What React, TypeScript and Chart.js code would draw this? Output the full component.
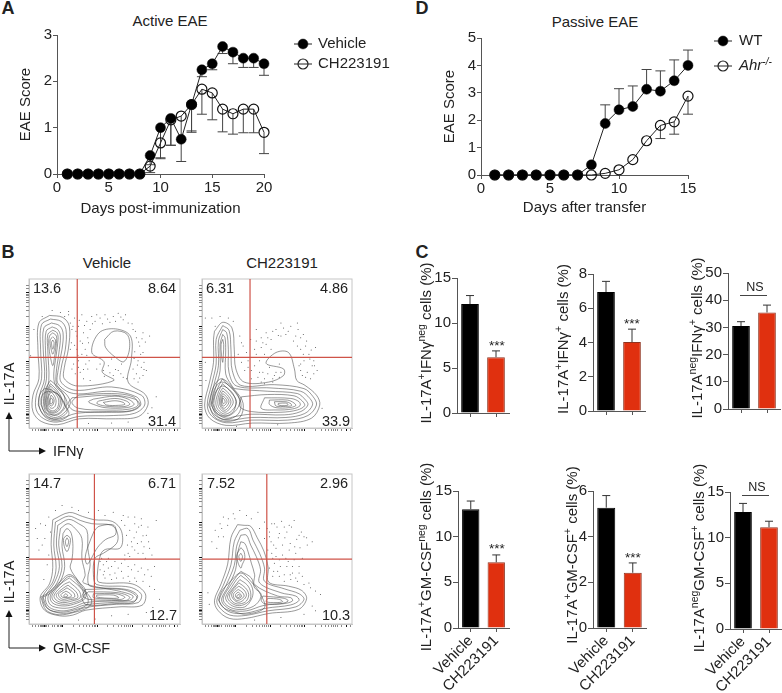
import React, { useEffect, useRef } from "react";
import { Chart, registerables } from "chart.js";

Chart.register(...registerables);
Chart.defaults.font.family = "'Liberation Sans', Arial, sans-serif";
Chart.defaults.color = "#222";

// ---------- Panel A ----------
const activeDays = [1, 2, 3, 4, 5, 6, 7, 8, 9, 10, 11, 12, 13, 14, 15, 16, 17, 18, 19, 20];
const activeVehicle = [0, 0, 0, 0, 0, 0, 0, 0, 0.4, 1.0, 1.2, 0.75, 1.5, 2.25, 2.38, 2.75, 2.63, 2.5, 2.5, 2.38];
const activeVehicleErr = [null, null, null, null, null, null, null, null, 0.2, 0.35, 0.62, 0.27, 0.9, 2.1, 2.25, 2.6, 2.38, 2.3, 2.3, 2.13];
const activeTreated = [0, 0, 0, 0, 0, 0, 0, 0, 0.17, 0.67, 1.17, 1.25, 1.5, 1.83, 1.75, 1.4, 1.3, 1.4, 1.4, 0.9];
const activeTreatedErr = [null, null, null, null, null, null, null, null, 0.03, 0.33, 0.62, 0.75, 0.93, 1.29, 1.17, 0.91, 0.86, 0.89, 0.89, 0.44];

// ---------- Panel D ----------
const passiveDays = [1, 2, 3, 4, 5, 6, 7, 8, 9, 10, 11, 12, 13, 14, 15];
const passiveWT = [0, 0, 0, 0, 0, 0, 0, 0.37, 1.88, 2.38, 2.5, 3.13, 3.06, 3.44, 4.0];
const passiveWTErr = [null, null, null, null, null, null, null, null, 2.56, 3.15, 3.25, 3.85, 3.8, 4.2, 4.56];
const passiveKO = [0, 0, 0, 0, 0, 0, 0, 0, 0.06, 0.19, 0.56, 1.25, 1.81, 1.94, 2.88];
const passiveKOErr = [null, null, null, null, null, null, null, null, null, null, null, null, 1.33, 1.49, 2.22];

// ---------- Panel C ----------
const barGroups = ["Vehicle", "CH223191"];
const ifnNegMeans = [12.1, 6.2];
const ifnNegErr = [13.05, 6.9];
const ifnPosMeans = [6.95, 4.03];
const ifnPosErr = [7.57, 4.78];
const ifnOnlyMeans = [30.5, 35.5];
const ifnOnlyErr = [32.1, 38.2];
const gmNegMeans = [13, 7.2];
const gmNegErr = [13.9, 8.0];
const gmPosMeans = [5.27, 2.42];
const gmPosErr = [5.8, 2.85];
const gmOnlyMeans = [12.8, 11.15];
const gmOnlyErr = [13.75, 11.8];

// ---------- Panel B: flow plots, contours as channel pairs (x, y, x, y, ...) ----------
const yMajorTicks = [41, 96, 203, 308, 412];
const yMinorTicks = [14, 22, 28, 33, 37, 45, 50, 56, 62, 68, 75, 82, 88, 128, 146, 159, 169, 178, 185, 191, 196, 235, 253, 266, 276, 285, 292, 298, 303, 340, 358, 371, 381, 390, 397, 403, 408, 425, 435];
const xMajorTicks = [47, 102, 207, 312, 440];
const xMinorTicks = [12, 20, 30, 35, 38, 41, 44, 50, 53, 60, 70, 78, 85, 90, 95, 98, 134, 152, 165, 175, 184, 191, 197, 202, 239, 257, 270, 280, 289, 296, 302, 307, 344, 362, 375, 385, 394, 401, 407, 412, 425, 450];

const contoursIfnVehicle = [
  [62,343,102,337,122,310,119,240,107,185,107,150,147,128,257,145,222,170,227,202,190,230,212,290,262,302,307,280,310,210,300,140,352,102,360,70,332,35,262,28,152,28,87,10,37,20,12,50,12,100,30,150,27,240,30,320],
  [65,332,97,325,112,300,110,240,97,180,97,140,140,115,250,125,340,100,350,70,320,45,255,38,150,35,85,18,45,28,22,55,22,100,38,150,35,240,38,315],
  [68,320,92,312,103,290,100,240,88,175,88,135,135,105,250,112,325,95,338,70,310,52,250,48,145,45,85,26,52,35,32,60,32,100,47,150,43,240,45,305],
  [70,308,87,300,95,280,90,225,82,165,85,130,115,100,125,75,105,45,80,32,55,42,40,62,40,100,53,150,50,235,52,295],
  [72,298,85,290,88,270,82,220,75,165,80,130,105,100,115,75,100,50,80,38,60,47,48,65,48,100,60,145,57,235,57,285],
  [72,290,83,280,82,250,77,215,72,190,65,215,60,250,62,280],
  [72,278,80,268,78,245,72,225,66,245,64,268],
  [72,268,76,260,72,240,68,260],
  [65,145,90,122,108,92,103,58,78,40,52,48,44,80,50,118],
  [65,135,85,115,100,85,92,55,72,45,55,55,50,85,55,115],
  [65,128,83,110,95,85,88,57,71,48,56,58,52,85,57,110],
  [66,120,80,105,90,85,85,60,70,52,58,62,55,85,60,105],
  [67,110,77,98,82,83,78,65,68,60,60,68,58,85,60,98],
  [67,100,74,92,76,82,72,70,67,67,62,73,62,85],
  [67,92,72,85,70,75,65,74,64,83],
  [28,70,48,34,85,22,120,40,110,70,90,100,50,120,32,100],
  [36,72,53,38,82,28,115,48,105,75,85,105,52,110,38,95],
  [130,92,250,100,320,88,335,70,305,52,235,50,140,52,118,72],
  [150,100,250,105,315,95,330,70,300,57,230,55,150,60,130,78],
  [195,88,260,97,300,88,318,72,295,62,230,62,195,72,180,80],
  [210,82,260,90,295,82,305,72,285,65,230,67,205,75],
  [225,78,260,83,285,78,290,72,270,69,235,70],
  [229,270,257,295,297,285,304,240,287,202,262,215,232,245],
];
const contoursIfnTreated = [
  [38,295,63,322,91,305,98,240,103,180,128,140,203,140,248,160,248,180,195,197,225,230,263,230,281,180,288,145,313,130,348,100,358,70,333,30,263,15,153,15,73,8,23,30,8,70,23,140,35,200,35,270],
  [63,312,82,298,88,240,92,175,118,130,220,132,310,120,338,95,348,70,322,38,260,24,150,24,73,16,30,36,16,70,30,135,43,195,43,270],
  [63,300,75,290,80,240,82,170,105,128,210,122,300,112,328,90,336,70,312,44,255,32,150,32,73,24,36,42,24,70,36,130,50,190,50,265],
  [63,285,70,275,72,235,72,165,90,130,100,120,200,112,290,105,315,85,322,70,300,50,250,40,150,42,100,35,73,30,42,47,30,72,42,125,55,175,55,255],
  [63,270,66,255,65,225,63,200,59,225,58,255],
  [62,150,80,130,100,110,115,80,100,50,73,36,45,52,36,75,45,115],
  [20,70,40,32,75,20,115,32,125,75,100,115,60,150,35,125],
  [28,72,45,38,73,26,110,42,118,78,95,118,60,140,38,118],
  [32,75,45,45,70,36,95,50,103,80,90,110,62,128,42,110],
  [62,135,78,120,93,103,105,80,93,55,70,42,48,57,42,78,50,110],
  [63,122,82,105,95,80,85,60,70,48,52,62,48,80,53,105],
  [63,113,78,100,88,80,80,62,68,54,56,66,53,82,56,100],
  [63,105,75,95,82,80,75,66,66,60,58,70,57,83,58,95],
  [63,98,72,90,76,80,70,70,64,67,60,75,60,88],
  [63,92,69,85,70,78,65,74,62,82],
  [120,95,200,102,280,98,305,82,312,68,290,55,240,48,150,50,115,65],
  [190,92,270,90,295,80,298,68,275,58,225,55,180,60],
  [205,85,260,85,280,76,285,68,265,62,225,62,205,72],
  [220,80,255,80,270,74,272,68,255,66,225,67],
  [232,75,255,76,262,71,250,68,232,70],
];
const contoursGmVehicle = [
  [72,317,122,339,162,327,197,317,252,312,280,282,277,232,232,227,217,212,207,152,212,127,312,122,352,92,342,57,272,52,172,42,132,27,92,25,47,42,34,82,62,122,72,172,67,242],
  [80,310,120,328,155,315,190,305,250,300,268,275,265,245,225,215,200,200,195,150,205,120,305,112,340,90,330,65,265,60,170,50,132,36,95,33,55,48,42,82,72,128,82,172,75,240],
  [87,300,120,318,150,305,175,285,178,230,185,180,178,140,185,115,295,105,328,88,320,70,260,66,170,58,132,45,97,40,60,52,50,82,78,128,92,175,83,240],
  [197,282,212,297,257,300,262,272,232,257,207,232,177,182,170,200,180,240],
  [95,290,118,305,140,290,160,260,160,200,170,150,165,125,280,98,315,85,305,72,255,70,170,65,135,52,100,48,65,58,58,85,85,125,100,175,90,240],
  [103,275,115,290,128,275,133,235,130,195,125,170,150,130,170,105,170,78,135,60,100,55,70,65,65,88,95,130,108,175,100,235],
  [115,270,125,260,122,235,115,220,107,235,105,260],
  [115,262,120,252,115,235,110,250],
  [36,82,52,42,92,28,135,35,178,50,190,70,170,100,125,150,85,120,58,95],
  [42,82,58,46,95,36,135,42,175,58,178,80,160,108,125,145,90,118,62,92],
  [122,140,160,105,165,80,135,65,102,60,75,70,70,88,100,125],
  [122,128,152,100,155,80,130,70,102,65,82,73,76,88,103,118],
  [118,118,143,97,147,80,125,74,103,70,87,78,83,90,105,110],
  [115,110,135,95,138,82,120,78,103,75,92,82,90,92,105,103],
  [112,100,125,92,128,84,112,80,100,82,97,90],
  [110,92,117,88,115,83,105,84],
  [170,105,280,105,325,85,315,65,260,62,175,58,160,80],
  [180,98,270,95,305,82,295,72,250,72,180,75,165,85],
  [195,92,262,92,290,82,280,75,250,76,195,80],
  [205,88,255,88,272,80,255,78,205,82],
];
const contoursGmTreated = [
  [108,302,128,300,148,297,168,262,188,222,201,172,203,127,263,115,303,102,318,77,293,44,203,32,133,17,83,17,48,42,38,72,58,122,78,182,88,262],
  [115,285,140,290,155,255,175,215,190,170,190,130,250,107,295,92,310,75,285,52,200,40,133,26,85,27,55,48,45,72,65,118,88,180,98,250],
  [118,270,135,270,148,240,165,205,178,165,175,125,240,95,285,85,295,72,270,58,195,48,133,33,88,35,60,55,53,75,72,115,98,178,105,235],
  [118,250,130,245,140,220,150,185,160,150,160,120,230,85,270,80,275,70,250,62,190,57,135,40,92,42,65,60,60,78,80,115,102,165,108,215],
  [118,232,127,222,130,200,122,180,118,170,110,185,106,210],
  [118,215,123,205,118,190,112,205],
  [50,72,68,48,95,38,135,30,190,50,175,95,150,128,118,155,85,128,60,100],
  [118,160,150,140,160,110,180,90,165,60,130,45,95,47,70,62,65,80,85,115,105,145],
  [118,148,145,125,155,100,150,75,130,52,100,52,78,66,72,82,90,112,105,135],
  [115,135,138,118,148,95,145,72,125,58,103,57,83,70,78,85,95,110],
  [112,125,132,110,142,90,135,70,120,62,103,62,88,73,84,88,97,108],
  [112,115,128,103,135,87,125,72,110,66,95,76,90,90,100,105],
  [110,105,122,97,128,85,118,75,105,72,97,80,96,92],
  [110,97,118,90,120,83,110,77,103,82,102,90],
  [113,90,116,84,108,80,106,86],
  [185,85,250,78,262,70,240,62,190,62,180,72],
  [200,78,235,75,245,68,225,65,195,68],
];

const dotsIfnVehicle = [125,320,130,300,138,335,145,280,150,310,155,265,160,345,165,290,170,240,175,325,180,260,185,300,190,340,145,240,150,205,160,225,172,195,128,260,135,215,130,180,140,165,155,170,165,150,178,180,185,145,200,325,215,335,230,345,245,322,255,340,270,350,285,330,300,320,315,300,325,275,335,250,345,230,320,232,330,205,340,185,325,165,315,180,318,150,330,140,345,160,355,175,365,280,352,262,345,290,225,175,240,190,255,160,270,175,285,155,250,210,280,195,120,345,95,352,70,358,40,340,15,300,5,220,360,45,372,62,250,15,300,18,180,14,385,95,133,310,142,295,152,328,168,312,178,275,192,318,205,345,222,318,238,332,262,325,278,338,292,345,312,318,322,295,332,262,342,272,318,212,328,192,338,225,348,200,335,152,348,178,125,240,138,252,148,222,162,258,175,222,182,205,135,195,150,185,165,178,228,158,245,168,262,178,278,165,295,150,205,180,215,195,108,340,120,355];
const dotsIfnTreated = [10,335,30,335,55,340,80,335,95,325,40,310,115,280,125,250,135,230,110,225,120,200,140,205,150,175,165,225,175,205,165,265,180,275,195,290,210,270,225,300,240,320,255,285,270,310,285,280,300,275,300,240,315,250,325,225,340,205,335,190,320,170,310,205,295,190,345,245,350,175,330,150,305,160,300,195,290,320,175,170,200,165,215,150,225,170,235,195,180,140,190,150,130,175,150,150,240,280,210,240,195,255,165,300,10,200,12,145,365,60,230,10,105,5,185,260,200,275,215,295,232,282,248,305,262,295,278,265,292,300,308,285,318,265,332,238,345,215,328,210,308,225,290,250,180,245,190,225,205,215,125,215,140,185,160,190,170,155,185,170,205,185,220,160,240,170,190,135,215,140,235,155,300,175,315,155,340,165,120,260,148,270,160,240,342,190];
const dotsGmVehicle = [20,290,35,305,50,300,60,325,80,345,100,360,130,355,150,345,180,340,210,345,230,330,255,340,280,315,300,325,320,305,340,300,360,295,385,315,295,270,310,250,325,280,340,250,355,270,300,215,320,225,345,215,365,230,290,210,240,200,260,190,280,185,300,175,320,180,340,170,360,165,380,175,225,180,240,170,260,155,280,160,300,145,320,140,345,130,230,140,250,135,365,115,380,105,395,75,375,50,355,35,300,30,250,25,200,15,150,12,60,210,55,180,45,135,30,225,220,200,215,165,290,300,305,285,318,262,332,295,345,268,298,240,312,235,328,245,348,235,362,250,372,210,305,205,330,215,352,200,235,190,250,175,270,170,290,195,310,165,330,160,350,150,370,145,228,160,245,150,265,140,285,140,305,130,325,130,215,190,225,150,65,280,48,260,40,240,25,260,340,320,320,325,285,330];
const dotsGmTreated = [30,250,40,285,55,305,65,265,45,230,65,325,80,320,95,335,115,345,135,330,150,320,170,340,175,290,190,310,205,280,220,305,235,275,250,295,265,300,280,315,295,270,310,265,320,240,335,250,210,250,225,230,245,240,265,225,285,215,305,200,190,260,200,225,215,200,235,195,255,200,275,175,295,175,205,170,215,145,230,160,250,150,270,135,290,130,310,120,330,110,345,100,360,90,335,55,345,40,310,30,240,20,160,12,18,95,22,60,198,290,212,305,228,295,242,312,258,280,272,295,288,258,302,280,318,262,205,265,218,240,232,262,252,262,268,245,282,235,298,232,212,215,225,205,245,210,262,190,280,195,220,185,238,175,258,175,275,155,295,155,218,160,235,145,250,130,268,150,285,140,305,145,325,125,60,290,78,300,100,320,50,265];

const ifnVehicleGate = [146, 215];
const ifnTreatedGate = [146, 215];
const gmVehicleGate = [198, 197];
const gmTreatedGate = [197, 197];

// ---------- Helpers ----------
const toPoints = (flat: number[]) => {
  const out: { x: number; y: number }[] = [];
  for (let i = 0; i < flat.length; i += 2) out.push({ x: flat[i], y: flat[i + 1] });
  return out;
};
const closeLoop = (flat: number[]) => [...flat, flat[0], flat[1]];

type Rect = { l: number; t: number; r: number; b: number };
type Margin = { l: number; t: number; r: number; b: number };

const errorBars = {
  id: "errorBars",
  beforeDatasetsDraw(chart: any) {
    const { ctx } = chart;
    const yScale = chart.scales.y;
    chart.data.datasets.forEach((ds: any, i: number) => {
      if (!ds.errorTo) return;
      const meta = chart.getDatasetMeta(i);
      ctx.save();
      ctx.strokeStyle = ds.errorColor || "#444";
      ctx.lineWidth = 1;
      meta.data.forEach((el: any, k: number) => {
        const v = ds.errorTo[k];
        if (v === null || v === undefined) return;
        const yEnd = yScale.getPixelForValue(v);
        const hw = ds.errorCap || 4.5;
        ctx.beginPath();
        ctx.moveTo(el.x, el.y);
        ctx.lineTo(el.x, yEnd);
        ctx.moveTo(el.x - hw, yEnd);
        ctx.lineTo(el.x + hw, yEnd);
        ctx.stroke();
      });
      ctx.restore();
    });
  },
};

const seriesKey = {
  id: "seriesKey",
  afterDraw(chart: any, _args: any, opts: any) {
    if (!opts || opts.x === undefined) return;
    const { ctx } = chart;
    chart.data.datasets.forEach((ds: any, i: number) => {
      const y = opts.y + i * opts.gap;
      ctx.save();
      ctx.strokeStyle = "#222";
      ctx.lineWidth = 1;
      ctx.beginPath();
      ctx.moveTo(opts.x - 9, y);
      ctx.lineTo(opts.x + 9, y);
      ctx.stroke();
      ctx.beginPath();
      ctx.arc(opts.x, y, ds.pointRadius, 0, Math.PI * 2);
      ctx.fillStyle = ds.pointBackgroundColor;
      ctx.fill();
      ctx.lineWidth = ds.pointBorderWidth;
      ctx.stroke();
      const fam = "'Liberation Sans', Arial, sans-serif";
      ctx.fillStyle = "#222";
      ctx.textBaseline = "middle";
      ctx.font = `${ds.labelItalic ? "italic " : ""}15px ${fam}`;
      ctx.fillText(ds.label, opts.x + opts.textGap, y);
      if (ds.labelSup) {
        const w = ctx.measureText(ds.label).width;
        ctx.font = `italic 10px ${fam}`;
        ctx.fillText(ds.labelSup, opts.x + opts.textGap + w, y - 4);
      }
      ctx.restore();
    });
  },
};

const frameBox = {
  id: "frameBox",
  beforeDraw(chart: any) {
    const { ctx, chartArea: a } = chart;
    ctx.save();
    ctx.strokeStyle = "#c6c6c6";
    ctx.lineWidth = 1;
    ctx.strokeRect(a.left, a.top, a.right - a.left, a.bottom - a.top);
    ctx.restore();
  },
};

const axisColor = "#555";

function lineConfig(p: { xMax: number; yMax: number; xLabel: string; margin: Margin; series: any[]; key: any }) {
  return {
    type: "line",
    data: { datasets: p.series },
    plugins: [errorBars, seriesKey],
    options: {
      animation: false,
      responsive: false,
      layout: { padding: { top: p.margin.t, right: p.margin.r, left: 0, bottom: 0 } },
      plugins: { legend: { display: false }, tooltip: { enabled: false }, seriesKey: p.key },
      scales: {
        x: {
          type: "linear",
          min: 0,
          max: p.xMax,
          afterFit: (s: any) => { s.height = p.margin.b; },
          grid: { drawOnChartArea: false, tickLength: 4, tickColor: axisColor },
          border: { color: axisColor },
          ticks: { stepSize: 5, font: { size: 15 }, padding: 1, maxRotation: 0 },
          title: { display: true, text: p.xLabel, font: { size: 15 }, padding: 0 },
        },
        y: {
          min: 0,
          max: p.yMax,
          afterFit: (s: any) => { s.width = p.margin.l; },
          grid: { drawOnChartArea: false, tickLength: 4, tickColor: axisColor },
          border: { color: axisColor },
          ticks: { stepSize: 1, font: { size: 15 }, padding: 1 },
          title: { display: true, text: "EAE Score", font: { size: 15 }, padding: 0 },
        },
      },
    },
  };
}

function series(label: string, days: number[], values: number[], err: any[], filled: boolean, extra: any = {}) {
  return {
    label,
    data: days.map((d, i) => ({ x: d, y: values[i] })),
    errorTo: err,
    errorCap: 5,
    errorColor: "#444",
    borderColor: "#222",
    borderWidth: 1,
    tension: 0,
    clip: false,
    pointRadius: 5,
    pointBackgroundColor: filled ? "#000" : "rgba(255,255,255,0)",
    pointBorderColor: "#111",
    pointBorderWidth: filled ? 0.5 : 1.2,
    ...extra,
  };
}

function barConfig(means: number[], errs: number[], yMax: number, step: number, labelled: boolean, margin: Margin) {
  return {
    type: "bar",
    data: {
      labels: barGroups,
      datasets: [{
        data: means,
        errorTo: errs,
        errorCap: 4,
        errorColor: "#333",
        backgroundColor: ["#000", "#e0300f"],
        borderColor: ["#000", "#8f3320"],
        borderWidth: 1,
        barPercentage: 0.68,
        categoryPercentage: 1,
      }],
    },
    plugins: [{ id: "errorBarsOver", afterDatasetsDraw: errorBars.beforeDatasetsDraw }],
    options: {
      animation: false,
      responsive: false,
      layout: { padding: { top: margin.t, right: margin.r, left: 0, bottom: 0 } },
      plugins: { legend: { display: false }, tooltip: { enabled: false } },
      scales: {
        x: {
          afterFit: (s: any) => { s.height = margin.b; },
          grid: { drawOnChartArea: false, tickLength: 4, tickColor: axisColor, offset: false },
          border: { color: axisColor },
          ticks: { display: labelled, font: { size: 15 }, minRotation: 45, maxRotation: 45, padding: 0, autoSkip: false },
        },
        y: {
          min: 0,
          max: yMax,
          afterFit: (s: any) => { s.width = margin.l; },
          grid: { drawOnChartArea: false, tickLength: 5, tickColor: axisColor },
          border: { color: axisColor },
          ticks: { stepSize: step, font: { size: 15 }, padding: 1 },
        },
      },
    },
  };
}

function flowAxis(majors: number[], minors: number[], max: number, fit: (s: any) => void) {
  const all = [...majors, ...minors].sort((a, b) => a - b);
  return {
    type: "linear",
    min: 0,
    max,
    afterFit: fit,
    afterBuildTicks: (s: any) => { s.ticks = all.map((value) => ({ value })); },
    grid: {
      drawOnChartArea: false,
      tickLength: 3,
      tickColor: (c: any) => (majors.includes(c.tick?.value) ? "#111" : "#8a8a8a"),
    },
    border: { color: "#c6c6c6" },
    ticks: { display: false, autoSkip: false },
  };
}

function flowConfig(contours: number[][], dots: number[], gate: number[], xMax: number, yMax: number, margin: Margin) {
  return {
    type: "scatter",
    data: {
      datasets: [
        { data: [{ x: gate[0], y: 0 }, { x: gate[0], y: yMax }], showLine: true, borderColor: "#cf5348", borderWidth: 1.2, pointRadius: 0, clip: false },
        { data: [{ x: 0, y: gate[1] }, { x: xMax, y: gate[1] }], showLine: true, borderColor: "#cf5348", borderWidth: 1.2, pointRadius: 0, clip: false },
        { data: toPoints(dots), showLine: false, pointRadius: 0.5, pointBorderWidth: 0, pointBackgroundColor: "#444" },
        ...contours.map((c) => ({
          data: toPoints(closeLoop(c)),
          showLine: true,
          tension: 0.35,
          borderColor: "rgba(60,60,60,0.75)",
          borderWidth: 0.7,
          pointRadius: 0,
        })),
      ],
    },
    plugins: [frameBox],
    options: {
      animation: false,
      responsive: false,
      layout: { padding: { top: margin.t, right: margin.r, left: 0, bottom: 0 } },
      plugins: { legend: { display: false }, tooltip: { enabled: false } },
      scales: {
        x: flowAxis(xMajorTicks, xMinorTicks, xMax, (s: any) => { s.height = margin.b; }),
        y: flowAxis(yMajorTicks, yMinorTicks, yMax, (s: any) => { s.width = margin.l; }),
      },
    },
  };
}

function Plot({ plot, margin, config }: { plot: Rect; margin: Margin; config: any }) {
  const ref = useRef<HTMLCanvasElement | null>(null);
  const width = plot.r - plot.l + margin.l + margin.r;
  const height = plot.b - plot.t + margin.t + margin.b;
  useEffect(() => {
    const chart = new Chart(ref.current as HTMLCanvasElement, config);
    return () => chart.destroy();
  }, []);
  return (
    <canvas
      ref={ref}
      width={width}
      height={height}
      style={{ position: "absolute", left: plot.l - margin.l, top: plot.t - margin.t, width, height }}
    />
  );
}

function Label({ x, y, size = 15, rot = 0, weight, children }: any) {
  return (
    <div
      style={{
        position: "absolute",
        left: x,
        top: y,
        transform: `translate(-50%,-50%) rotate(${rot}deg)`,
        fontSize: size,
        fontWeight: weight,
        lineHeight: 1,
        whiteSpace: "nowrap",
        color: "#222",
      }}
    >
      {children}
    </div>
  );
}

const Sup = ({ children }: any) => <sup style={{ fontSize: "0.7em", lineHeight: 0 }}>{children}</sup>;

const barM: Margin = { l: 40, t: 12, r: 6, b: 12 };
const barBottomM: Margin = { l: 50, t: 12, r: 6, b: 64 };
const flowM: Margin = { l: 6, t: 2, r: 2, b: 6 };
const mA: Margin = { l: 40, t: 12, r: 130, b: 44 };
const mD: Margin = { l: 40, t: 12, r: 90, b: 42 };

function Arrows({ x, top, corner, right }: any) {
  return (
    <svg style={{ position: "absolute", left: 0, top: 0 }} width={782} height={693}>
      <path d={`M${x} ${top + 4} L${x} ${corner} L${right - 4} ${corner}`} fill="none" stroke="#222" strokeWidth={1} />
      <path d={`M${x} ${top} l-3.5 7 l7 0 z`} fill="#111" />
      <path d={`M${right} ${corner} l-7 -3.5 l0 7 z`} fill="#111" />
    </svg>
  );
}

export default function App() {
  useEffect(() => {
    document.body.style.margin = "0";
  }, []);
  const rule = (l: number, r: number, y: number) => (
    <div style={{ position: "absolute", left: l, top: y, width: r - l, height: 1, background: "#444" }} />
  );
  return (
    <div
      style={{
        position: "absolute",
        left: 0,
        top: 0,
        width: 782,
        height: 693,
        overflow: "hidden",
        background: "#fff",
        fontFamily: "'Liberation Sans', Arial, sans-serif",
      }}
    >
      <Label x={8} y={8} size={18} weight="bold">A</Label>
      <Label x={422} y={8} size={18} weight="bold">D</Label>
      <Label x={8} y={252} size={18} weight="bold">B</Label>
      <Label x={422} y={252} size={18} weight="bold">C</Label>

      <Label x={170} y={20} size={15}>Active EAE</Label>
      <Label x={595} y={21} size={15}>Passive EAE</Label>

      <Plot
        plot={{ l: 57, t: 35, r: 264, b: 174 }}
        margin={mA}
        config={lineConfig({
          xMax: 20,
          yMax: 3,
          xLabel: "Days post-immunization",
          margin: mA,
          key: { x: 286, y: 21, gap: 20, textGap: 15 },
          series: [
            series("Vehicle", activeDays, activeVehicle, activeVehicleErr, true),
            series("CH223191", activeDays, activeTreated, activeTreatedErr, false),
          ],
        })}
      />
      <Plot
        plot={{ l: 481, t: 38, r: 688, b: 175 }}
        margin={mD}
        config={lineConfig({
          xMax: 15,
          yMax: 5,
          xLabel: "Days after transfer",
          margin: mD,
          key: { x: 282, y: 15, gap: 25, textGap: 16 },
          series: [
            series("WT", passiveDays, passiveWT, passiveWTErr, true),
            series("Ahr", passiveDays, passiveKO, passiveKOErr, false, { labelItalic: true, labelSup: "-/-" }),
          ],
        })}
      />

      <Label x={107} y={262} size={15}>Vehicle</Label>
      <Label x={282} y={262} size={15}>CH223191</Label>

      <Plot plot={{ l: 29, t: 277, r: 182, b: 428 }} margin={flowM} config={flowConfig(contoursIfnVehicle, dotsIfnVehicle, ifnVehicleGate, 457, 454, flowM)} />
      <Plot plot={{ l: 202, t: 277, r: 354, b: 428 }} margin={flowM} config={flowConfig(contoursIfnTreated, dotsIfnTreated, ifnTreatedGate, 456, 454, flowM)} />
      <Plot plot={{ l: 29, t: 472, r: 182, b: 624 }} margin={flowM} config={flowConfig(contoursGmVehicle, dotsGmVehicle, gmVehicleGate, 457, 456, flowM)} />
      <Plot plot={{ l: 202, t: 472, r: 354, b: 624 }} margin={flowM} config={flowConfig(contoursGmTreated, dotsGmTreated, gmTreatedGate, 456, 456, flowM)} />

      <Label x={47} y={288} size={14.5}>13.6</Label>
      <Label x={162} y={288} size={14.5}>8.64</Label>
      <Label x={162} y={421} size={14.5}>31.4</Label>
      <Label x={220} y={288} size={14.5}>6.31</Label>
      <Label x={334} y={288} size={14.5}>4.86</Label>
      <Label x={336} y={421} size={14.5}>33.9</Label>
      <Label x={47} y={483} size={14.5}>14.7</Label>
      <Label x={162} y={483} size={14.5}>6.71</Label>
      <Label x={163} y={615} size={14.5}>12.7</Label>
      <Label x={221} y={483} size={14.5}>7.52</Label>
      <Label x={334} y={483} size={14.5}>2.96</Label>
      <Label x={336} y={615} size={14.5}>10.3</Label>

      <Arrows x={9} top={412} corner={451} right={46} />
      <Arrows x={9} top={610} corner={648} right={46} />
      <Label x={9} y={384} size={14.5} rot={-90}>IL-17A</Label>
      <Label x={9} y={582} size={14.5} rot={-90}>IL-17A</Label>
      <div style={{ position: "absolute", left: 53, top: 451, transform: "translateY(-50%)", fontSize: 14.5, color: "#222" }}>IFNγ</div>
      <div style={{ position: "absolute", left: 53, top: 648, transform: "translateY(-50%)", fontSize: 14.5, color: "#222" }}>GM-CSF</div>

      <Plot plot={{ l: 457, t: 278, r: 509, b: 413 }} margin={barM} config={barConfig(ifnNegMeans, ifnNegErr, 15, 5, false, barM)} />
      <Plot plot={{ l: 593, t: 274, r: 645, b: 411 }} margin={barM} config={barConfig(ifnPosMeans, ifnPosErr, 8, 2, false, barM)} />
      <Plot plot={{ l: 728, t: 273, r: 780, b: 409 }} margin={barM} config={barConfig(ifnOnlyMeans, ifnOnlyErr, 50, 10, false, barM)} />
      <Plot plot={{ l: 458, t: 491, r: 509, b: 628 }} margin={barBottomM} config={barConfig(gmNegMeans, gmNegErr, 15, 5, true, barBottomM)} />
      <Plot plot={{ l: 593, t: 491, r: 646, b: 628 }} margin={barBottomM} config={barConfig(gmPosMeans, gmPosErr, 6, 2, true, barBottomM)} />
      <Plot plot={{ l: 730, t: 492, r: 782, b: 629 }} margin={barBottomM} config={barConfig(gmOnlyMeans, gmOnlyErr, 15, 5, true, barBottomM)} />

      <Label x={425} y={343} rot={-90}>IL-17A<Sup>+</Sup>IFNγ<Sup>neg</Sup> cells (%)</Label>
      <Label x={562} y={339} rot={-90}>IL-17A<Sup>+</Sup>IFNγ<Sup>+</Sup> cells (%)</Label>
      <Label x={696} y={338} rot={-90}>IL-17A<Sup>neg</Sup>IFNγ<Sup>+</Sup> cells (%)</Label>
      <Label x={425} y={557} rot={-90}>IL-17A<Sup>+</Sup>GM-CSF<Sup>neg</Sup> cells (%)</Label>
      <Label x={571} y={555} rot={-90}>IL-17A<Sup>+</Sup>GM-CSF<Sup>+</Sup> cells (%)</Label>
      <Label x={698} y={558} rot={-90}>IL-17A<Sup>neg</Sup>GM-CSF<Sup>+</Sup> cells (%)</Label>

      <Label x={497} y={346} size={13.5}>***</Label>
      <Label x={632} y={324} size={13.5}>***</Label>
      <Label x={497} y={549} size={13.5}>***</Label>
      <Label x={633} y={558} size={13.5}>***</Label>
      <Label x={755} y={287} size={12.5}>NS</Label>
      <Label x={757} y={487} size={12.5}>NS</Label>
      {rule(740, 767, 295)}
      {rule(742, 769, 495)}
    </div>
  );
}
